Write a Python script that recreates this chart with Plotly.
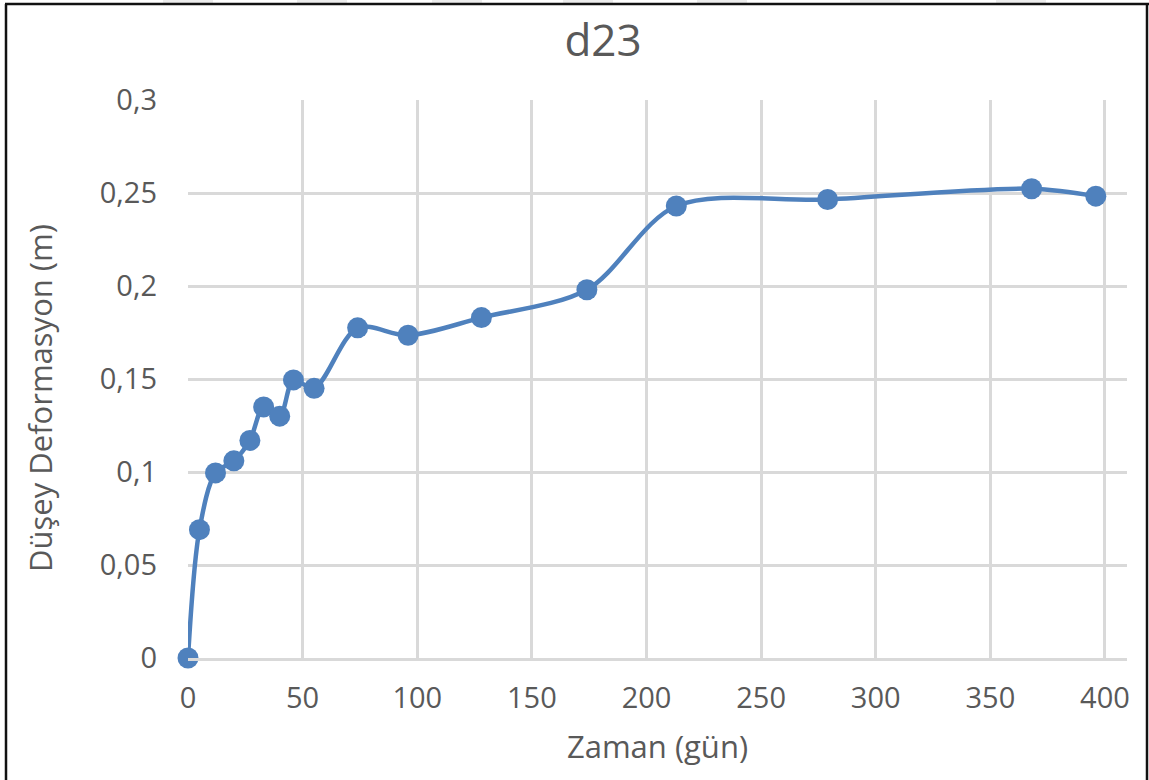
import plotly.graph_objects as go

# Elapsed time (days) and measured vertical deformation (m) for settlement point d23
days = [0, 5, 12, 20, 27, 33, 40, 46, 55, 74, 96, 128, 174, 213, 279, 368, 396]
deformation = [0, 0.069, 0.0995, 0.106, 0.117, 0.135, 0.130, 0.1495, 0.145,
               0.1775, 0.1735, 0.183, 0.198, 0.243, 0.2465, 0.2523, 0.2483]

x_tick_values = [0, 50, 100, 150, 200, 250, 300, 350, 400]
x_tick_labels = ["0", "50", "100", "150", "200", "250", "300", "350", "400"]
y_tick_values = [0, 0.05, 0.1, 0.15, 0.2, 0.25, 0.3]
y_tick_labels = ["0", "0,05", "0,1", "0,15", "0,2", "0,25", "0,3"]

W, H = 1149, 780
LEFT, RIGHT, TOP, BOTTOM = 188, 22, 100, 122
PW, PH = W - LEFT - RIGHT, H - TOP - BOTTOM

TEXT = "#595959"
GRID = "#d9d9d9"
BLUE = "#4F81BD"
FONT = "Open Sans"


def px_x(px):
    return (px - LEFT) / PW


def px_y(py):
    return (H - BOTTOM - py) / PH


fig = go.Figure()
fig.add_trace(go.Scatter(
    x=days, y=deformation,
    mode="lines+markers",
    line=dict(color=BLUE, width=4.5, shape="spline", smoothing=0.9),
    marker=dict(color=BLUE, size=21),
    cliponaxis=False,
    showlegend=False,
))

# outer chart frame
frame = dict(type="line", xref="paper", yref="paper",
             line=dict(color="#111111", width=2.5), layer="above")
shapes = [
    dict(frame, x0=px_x(5), x1=px_x(1149), y0=px_y(4), y1=px_y(4)),
    dict(frame, x0=px_x(6), x1=px_x(6), y0=px_y(4), y1=px_y(790)),
    dict(frame, x0=px_x(1147), x1=px_x(1147), y0=px_y(4), y1=px_y(790)),
]
# faint rounded tabs along the top edge
for cx in [188, 322, 457, 588, 722, 875, 1021]:
    shapes.append(dict(type="rect", xref="paper", yref="paper",
                       x0=px_x(cx - 25), x1=px_x(cx + 25),
                       y0=px_y(3), y1=px_y(-2),
                       fillcolor="#ececec", line=dict(width=0), layer="below"))

fig.update_layout(
    width=W, height=H,
    margin=dict(l=LEFT, r=RIGHT, t=TOP, b=BOTTOM),
    paper_bgcolor="white", plot_bgcolor="white",
    font=dict(family=FONT, color=TEXT, size=29),
    title=dict(text="d23", x=603 / W, xanchor="center", xref="container",
               y=1 - 41 / H, yanchor="middle", yref="container",
               font=dict(family=FONT, size=44, color=TEXT)),
    shapes=shapes,
    annotations=[dict(
        text="Düşey Deformasyon (m)", textangle=-90,
        xref="paper", yref="paper", x=px_x(40), y=px_y(398),
        xanchor="center", yanchor="middle", showarrow=False,
        font=dict(size=31, color=TEXT, family=FONT),
    )],
    xaxis=dict(
        range=[0, 409.6],
        tickvals=x_tick_values, ticktext=x_tick_labels,
        showgrid=True, gridcolor=GRID, gridwidth=2.5,
        showline=True, linecolor=GRID, linewidth=2.5,
        zeroline=False, ticks="", ticklabelstandoff=12,
        tickfont=dict(size=29, color=TEXT, family=FONT),
        title=dict(text="Zaman (gün)", standoff=22,
                   font=dict(size=31, color=TEXT, family=FONT)),
        automargin=False, fixedrange=True,
    ),
    yaxis=dict(
        range=[0, 0.3],
        tickvals=y_tick_values, ticktext=y_tick_labels,
        showgrid=True, gridcolor=GRID, gridwidth=2.5,
        showline=False, zeroline=False, ticks="", ticklabelstandoff=30,
        tickfont=dict(size=29, color=TEXT, family=FONT),
        automargin=False, fixedrange=True,
    ),
)

fig.write_html("out.html", config={"displayModeBar": False})
